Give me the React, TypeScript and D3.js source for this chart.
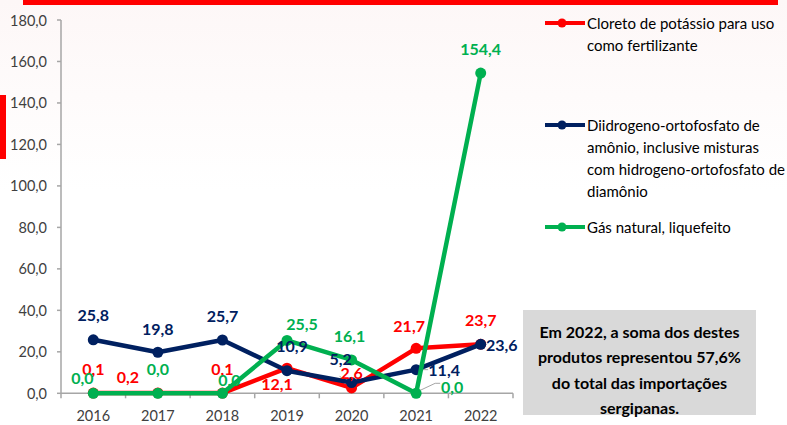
import React from "react";
import * as d3 from "d3";

const years = ["2016", "2017", "2018", "2019", "2020", "2021", "2022"];
const cloreto = [0.1, 0.2, 0.1, 12.1, 2.6, 21.7, 23.7];
const diidrogeno = [25.8, 19.8, 25.7, 10.9, 5.2, 11.4, 23.6];
const gas = [0.0, 0.0, 0.0, 25.5, 16.1, 0.0, 154.4];
const yTicks = [0, 20, 40, 60, 80, 100, 120, 140, 160, 180];
const seriesNames = [
  ["Cloreto de potássio para uso", "como fertilizante"],
  ["Diidrogeno-ortofosfato de", "amônio, inclusive misturas", "com hidrogeno-ortofosfato de", "diamônio"],
  ["Gás natural, liquefeito"],
];
const noteLines = [
  "Em 2022, a soma dos destes",
  "produtos representou 57,6%",
  "do total das importações",
  "sergipanas.",
];

// label placement offsets (dx, dy) relative to each point
const redOffsets = [[0, -25], [-30, -16], [0, -25], [-10, 15], [0, -15], [-7, -23], [0, -25]];
const navyOffsets = [[0, -25], [0, -24], [0, -25], [5, -25], [-11, -24], [28, 0], [21, 0]];
const greenOffsets = [[-11, -16], [0, -25], [7, -14], [15, -17], [-2, -24], [36, -7], [0, -25]];

const W = 787;
const H = 425;
const FONT = "Lato, 'Noto Sans', sans-serif";
const fmt = (v: number) => v.toFixed(1).replace(".", ",");

export default function App() {
  const x = d3.scaleBand().domain(years).range([61, 513]);
  const y = d3.scaleLinear().domain([0, 180]).range([393.3, 20]);
  const cx = (yr: string) => (x(yr) as number) + x.bandwidth() / 2;
  const line = d3
    .line<number>()
    .x((_, i) => cx(years[i]))
    .y((d) => y(d));

  const series = [
    { values: cloreto, color: "#FF0000", offsets: redOffsets },
    { values: diidrogeno, color: "#002060", offsets: navyOffsets },
    { values: gas, color: "#00B050", offsets: greenOffsets },
  ];

  const axisColor = "#A6A6A6";
  const legendY = [23, 125, 227];

  return (
    <svg
      width={W}
      height={H}
      style={{ position: "absolute", left: 0, top: 0, display: "block" }}
      fontFamily={FONT}
    >
      <defs>
        <linearGradient id="bg" x1="0" y1="0" x2="0" y2="1">
          <stop offset="0" stopColor="#FDF7F7" />
          <stop offset="0.45" stopColor="#FFFFFF" />
          <stop offset="1" stopColor="#FFFFFF" />
        </linearGradient>
      </defs>
      <rect x={0} y={0} width={W} height={H} fill="url(#bg)" />
      <rect x={23} y={0} width={755} height={5} fill="#FF0000" />
      <rect x={0} y={95} width={6} height={64} fill="#FF0000" />

      {/* y axis */}
      <line x1={61} x2={61} y1={y(180)} y2={y(0)} stroke={axisColor} strokeWidth={1.5} />
      {yTicks.map((t) => (
        <g key={t}>
          <line x1={57} x2={61} y1={y(t)} y2={y(t)} stroke={axisColor} strokeWidth={1.5} />
          <text x={47} y={y(t)} textAnchor="end" dominantBaseline="central" fontSize={14.5} fill="#404040">
            {fmt(t)}
          </text>
        </g>
      ))}
      {/* x axis */}
      <line x1={61} x2={513} y1={y(0)} y2={y(0)} stroke={axisColor} strokeWidth={1.5} />
      {years.map((yr) => (
        <line
          key={"t" + yr}
          x1={x(yr) as number}
          x2={x(yr) as number}
          y1={y(0)}
          y2={y(0) + 5}
          stroke={axisColor}
          strokeWidth={1.5}
        />
      ))}
      <line x1={513} x2={513} y1={y(0)} y2={y(0) + 5} stroke={axisColor} strokeWidth={1.5} />
      {years.map((yr) => (
        <text key={"l" + yr} x={cx(yr)} y={415} textAnchor="middle" dominantBaseline="central" fontSize={14.5} fill="#404040">
          {yr}
        </text>
      ))}

      {/* leader lines */}
      <line x1={cx("2020") - 3} y1={y(2.6) - 2} x2={cx("2020") - 12} y2={y(2.6) - 12} stroke={axisColor} strokeWidth={1} />
      <polyline
        points={`${cx("2021") + 2},${y(0) - 2} ${cx("2021") + 19},${y(0) - 10} ${cx("2021") + 24},${y(0) - 10}`}
        fill="none"
        stroke={axisColor}
        strokeWidth={1}
      />
      <line x1={cx("2021") + 4} y1={y(11.4)} x2={cx("2021") + 12} y2={y(11.4)} stroke={axisColor} strokeWidth={1} />

      {/* lines */}
      {series.map((s, si) => (
        <g key={"s" + si}>
          <path d={line(s.values) as string} fill="none" stroke={s.color} strokeWidth={4.5} strokeLinejoin="round" />
          {s.values.map((v, i) => (
            <circle key={i} cx={cx(years[i])} cy={y(v)} r={5.5} fill={s.color} />
          ))}
        </g>
      ))}

      {/* data labels */}
      {series.map((s, si) =>
        s.values.map((v, i) => (
          <text
            key={"d" + si + "-" + i}
            x={cx(years[i]) + s.offsets[i][0]}
            y={y(v) + s.offsets[i][1]}
            textAnchor="middle"
            dominantBaseline="central"
            fontSize={16}
            fontWeight={700}
            fill={s.color}
          >
            {fmt(v)}
          </text>
        ))
      )}

      {/* legend */}
      {series.map((s, si) => (
        <g key={"lg" + si}>
          <line x1={545} x2={585} y1={legendY[si]} y2={legendY[si]} stroke={s.color} strokeWidth={4} />
          <circle cx={562} cy={legendY[si]} r={4.5} fill={s.color} />
          {seriesNames[si].map((ln, li) => (
            <text
              key={li}
              x={587}
              y={legendY[si] + li * 22}
              dominantBaseline="central"
              fontSize={15}
              fill="#000000"
            >
              {ln}
            </text>
          ))}
        </g>
      ))}

      {/* note box */}
      <rect x={523} y={310} width={233} height={105} fill="#D9D9D9" />
      {noteLines.map((ln, i) => (
        <text
          key={"n" + i}
          x={639.5}
          y={331 + i * 25.5}
          textAnchor="middle"
          dominantBaseline="central"
          fontSize={16}
          fontWeight={700}
          fill="#000000"
        >
          {ln}
        </text>
      ))}
    </svg>
  );
}
